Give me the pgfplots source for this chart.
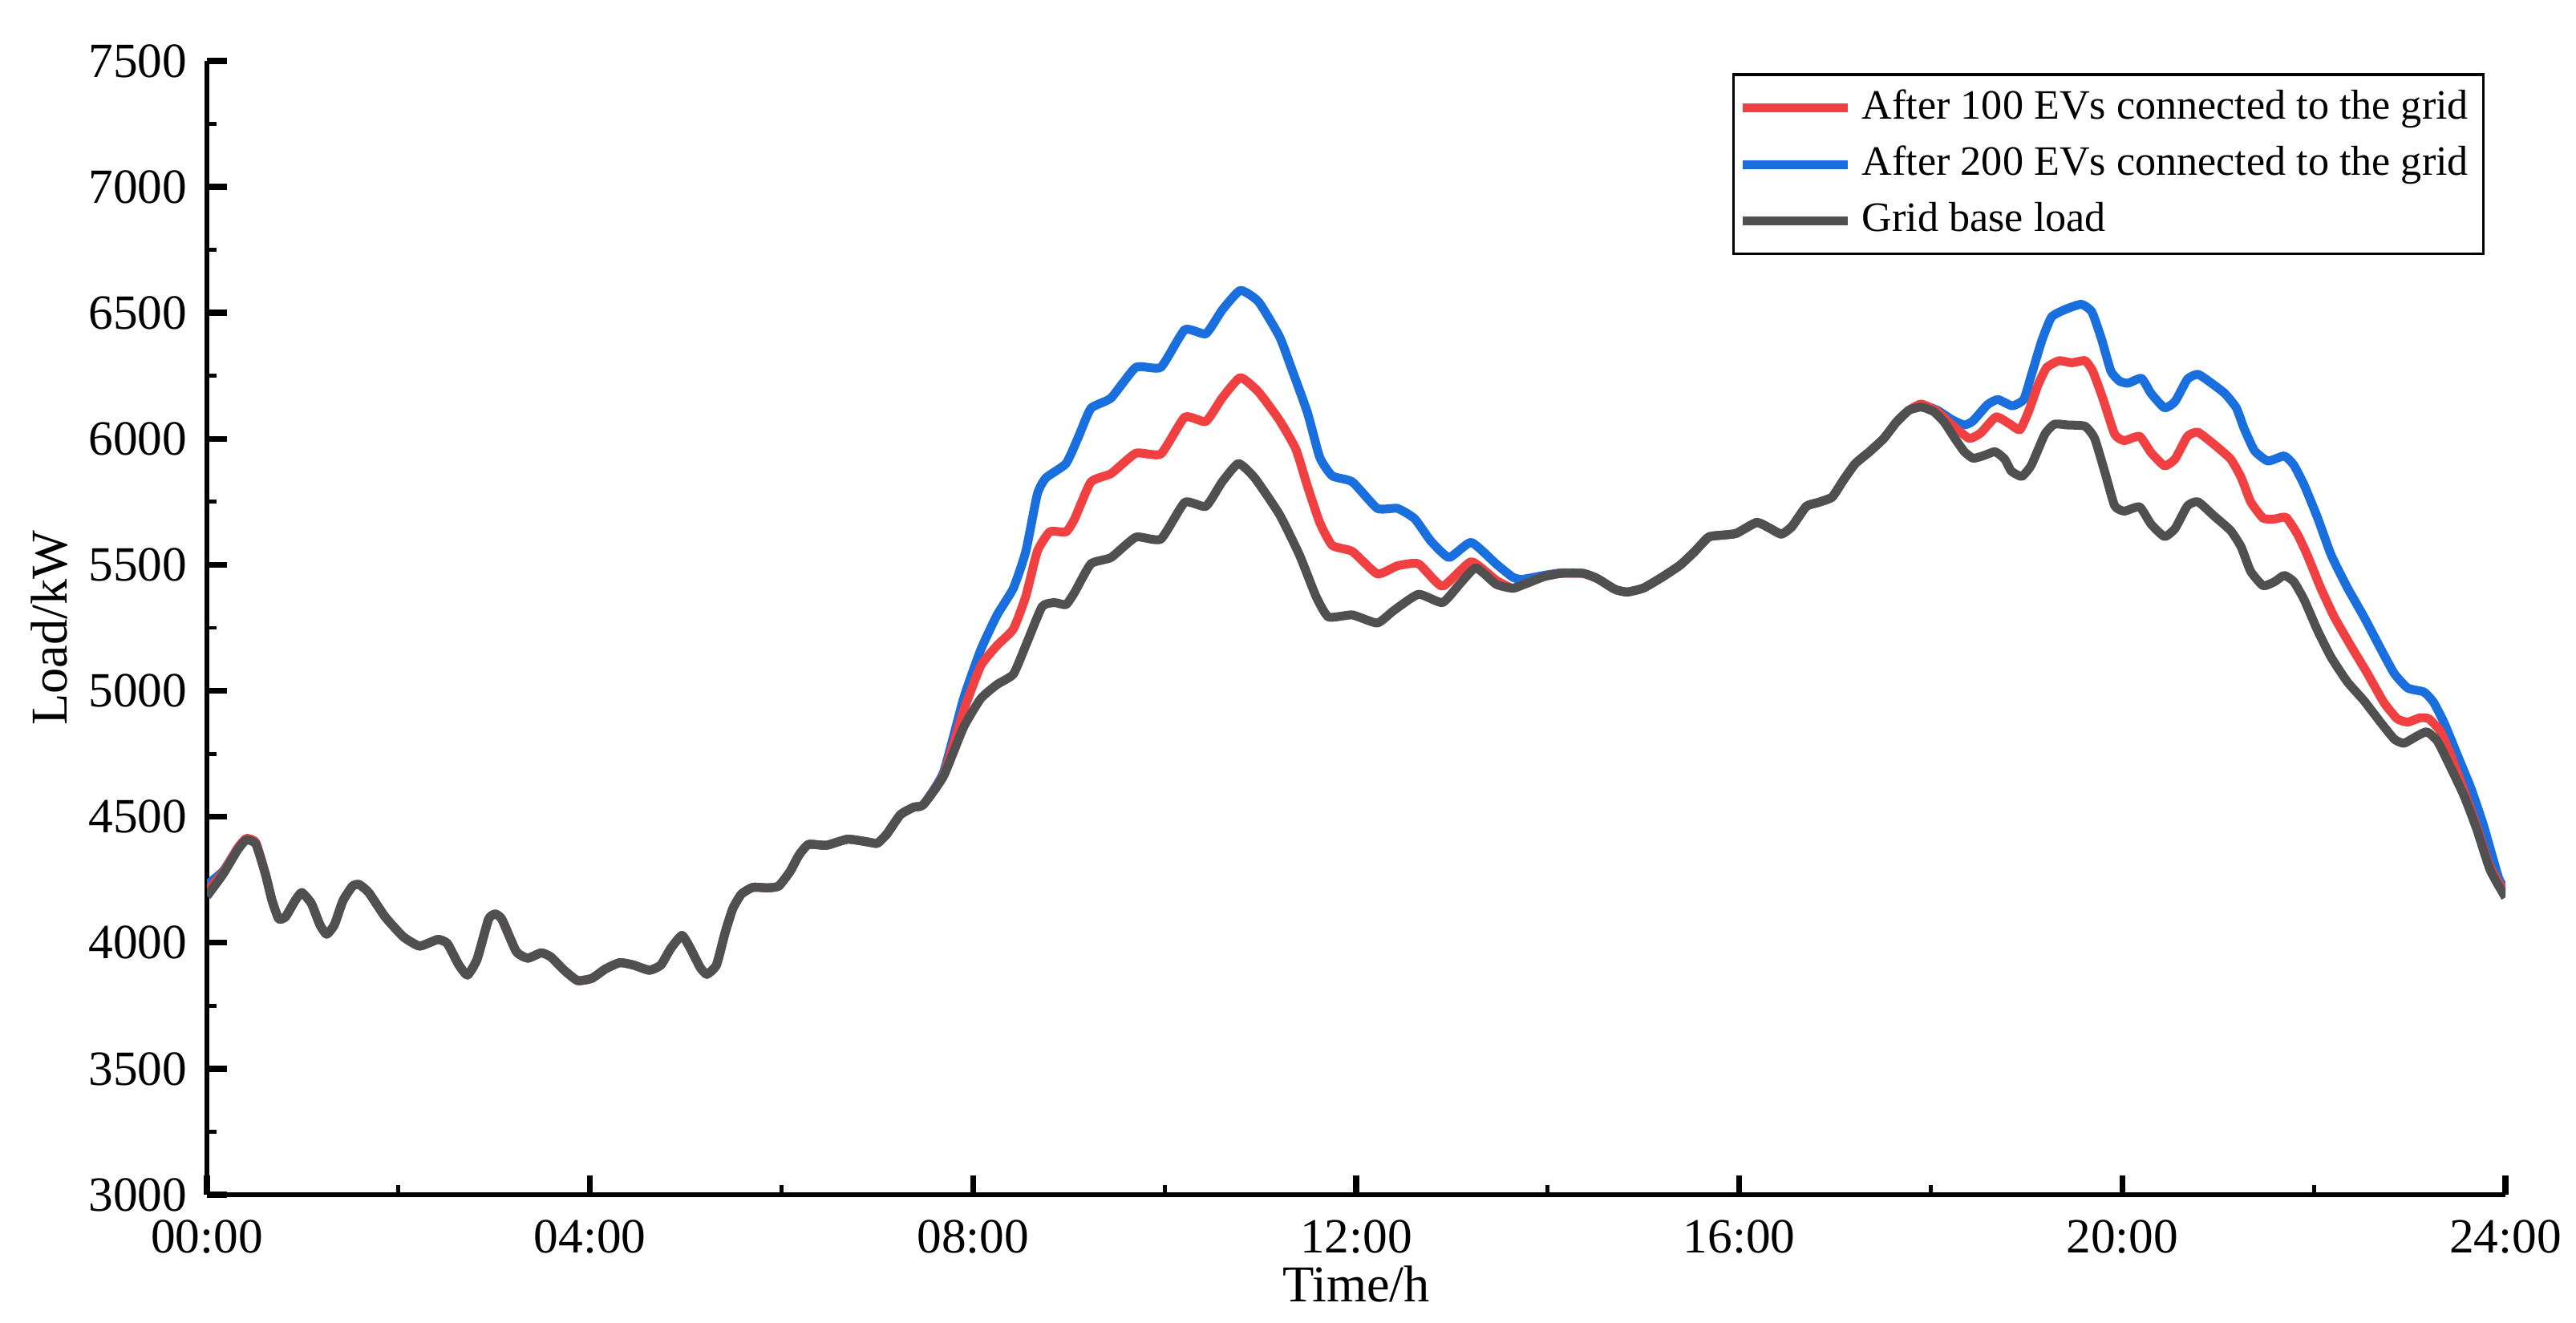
\documentclass[border=0pt]{standalone}
\usepackage{fontspec}
\setmainfont{Liberation Serif}
\usepackage{pgfplots}
\pgfplotsset{compat=1.18}
\definecolor{redline}{RGB}{240,64,66}
\definecolor{blueline}{RGB}{26,111,223}
\definecolor{grayline}{RGB}{80,80,80}
\begin{document}
\begin{tikzpicture}
\useasboundingbox (-1.478cm,-0.916cm) rectangle (16.918cm,8.534cm);
\begin{axis}[
  at={(0,0)}, anchor=south west,
  scale only axis, width=16.414cm, height=8.099cm,
  xmin=0, xmax=24, ymin=3000, ymax=7500,
  axis x line=bottom, axis y line=left,
  axis line style={-, line width=1pt, black},
  xtick={0,4,8,12,16,20,24},
  xticklabels={00:00,04:00,08:00,12:00,16:00,20:00,24:00},
  ytick={3000,3500,4000,4500,5000,5500,6000,6500,7000,7500},
  minor x tick num=1, minor y tick num=1,
  tick align=inside,
  major tick length=0.14cm, minor tick length=0.068cm,
  every major tick/.style={line width=1.2pt, black},
  every minor tick/.style={line width=0.8pt, black},
  /pgf/number format/.cd, assume math mode=true, 1000 sep={}, /pgfplots/.cd,
  tick label style={font=\fontsize{10}{12}\selectfont},
  xticklabel style={inner ysep=0pt, yshift=-5pt},
  yticklabel style={inner ysep=0pt, xshift=-0.5pt},
  xlabel={Time/h}, ylabel={Load/kW},
  label style={font=\fontsize{10.5}{12}\selectfont, inner sep=0.5pt},
  xlabel style={at={(axis description cs:0.5,-0.079)}, anchor=center},
  ylabel style={at={(axis description cs:-0.0684,0.5)}, anchor=center},
  legend style={at={(0.991,0.989)}, anchor=north east, draw=black, line width=0.6pt,
    font=\fontsize{8.5}{10}\selectfont, inner xsep=1pt, inner ysep=1pt, row sep=0pt},
  legend cell align=left,
  legend image code/.code={\draw[#1] (0cm,0cm) -- (0.75cm,0cm);},
  clip=true,
]
\addlegendimage{redline, line width=1.8pt}
\addlegendentry{After 100 EVs connected to the grid}
\addlegendimage{blueline, line width=1.8pt}
\addlegendentry{After 200 EVs connected to the grid}
\addlegendimage{grayline, line width=1.8pt}
\addlegendentry{Grid base load}

% After 200 EVs
\addplot[blueline, line width=1.8pt, line join=round, smooth, tension=0.3, forget plot] coordinates {
(0.00,4230) (0.17,4285) (0.32,4375) (0.41,4412) (0.51,4395) (0.61,4273) (0.68,4167) (0.75,4095) (0.82,4103) (0.92,4167) (0.99,4199) (1.09,4156) (1.18,4071) (1.25,4034) (1.33,4071) (1.42,4167) (1.52,4225) (1.59,4231) (1.69,4199) (1.86,4103) (2.05,4024) (2.22,3987) (2.41,4013) (2.51,3997) (2.63,3912) (2.72,3872) (2.82,3934) (2.94,4093) (3.01,4114) (3.08,4093) (3.23,3965) (3.35,3939) (3.49,3960) (3.59,3944) (3.73,3891) (3.87,3850) (4.02,3859) (4.16,3896) (4.31,3921) (4.45,3912) (4.62,3891) (4.74,3912) (4.84,3976) (4.96,4029) (5.05,3976) (5.15,3902) (5.22,3875) (5.32,3912) (5.41,4040) (5.49,4135) (5.58,4193) (5.70,4220) (5.85,4218) (5.97,4225) (6.09,4284) (6.18,4347) (6.28,4390) (6.47,4387) (6.69,4411) (6.90,4400) (7.00,4395) (7.10,4432) (7.24,4508) (7.38,4538) (7.48,4548)
(7.69,4676) (7.90,4969) (8.08,5163) (8.25,5301) (8.42,5407) (8.55,5553) (8.67,5780) (8.76,5845) (8.97,5902) (9.10,6008) (9.23,6121) (9.44,6162) (9.70,6284) (9.96,6284) (10.21,6433) (10.43,6417) (10.60,6511) (10.79,6589) (10.98,6544) (11.20,6405) (11.32,6284) (11.49,6105) (11.62,5926) (11.75,5853) (11.96,5829) (12.22,5724) (12.43,5724) (12.61,5683) (12.78,5594) (12.97,5529) (13.20,5589) (13.46,5504) (13.63,5452) (13.73,5442) (13.96,5458) (14.14,5468) (14.37,5466)
(14.52,5445) (14.70,5403) (14.83,5392) (15.00,5408) (15.19,5450) (15.38,5498) (15.53,5551) (15.68,5610) (15.83,5618) (15.97,5625) (16.18,5668) (16.31,5647) (16.44,5622) (16.55,5652) (16.70,5732) (16.83,5748) (16.97,5769) (17.08,5832) (17.21,5901) (17.36,5949) (17.51,6002) (17.64,6066) (17.77,6113)
(17.90,6135) (18.07,6113) (18.22,6076) (18.35,6055) (18.44,6071) (18.59,6135) (18.70,6156) (18.85,6131) (18.97,6156) (19.05,6253) (19.16,6391) (19.26,6483) (19.40,6513) (19.57,6534) (19.68,6505) (19.78,6399) (19.88,6269) (19.97,6229) (20.06,6221) (20.20,6240) (20.30,6180) (20.44,6123) (20.55,6148) (20.68,6237) (20.79,6256) (20.93,6221) (21.07,6180) (21.19,6123) (21.27,6042) (21.38,5953) (21.52,5912) (21.69,5932) (21.79,5896) (21.90,5815) (22.04,5685) (22.18,5539) (22.35,5409) (22.52,5295) (22.70,5165) (22.84,5068) (22.98,5011) (23.15,4995) (23.25,4954) (23.36,4873) (23.50,4743) (23.64,4613) (23.77,4467) (23.93,4256) (24.00,4215)
};
% After 100 EVs
\addplot[redline, line width=1.8pt, line join=round, smooth, tension=0.3, forget plot] coordinates {
(0.00,4205) (0.17,4280) (0.32,4375) (0.41,4414) (0.51,4398) (0.61,4273) (0.68,4167) (0.75,4095) (0.82,4103) (0.92,4167) (0.99,4199) (1.09,4156) (1.18,4071) (1.25,4034) (1.33,4071) (1.42,4167) (1.52,4225) (1.59,4231) (1.69,4199) (1.86,4103) (2.05,4024) (2.22,3987) (2.41,4013) (2.51,3997) (2.63,3912) (2.72,3872) (2.82,3934) (2.94,4093) (3.01,4114) (3.08,4093) (3.23,3965) (3.35,3939) (3.49,3960) (3.59,3944) (3.73,3891) (3.87,3850) (4.02,3859) (4.16,3896) (4.31,3921) (4.45,3912) (4.62,3891) (4.74,3912) (4.84,3976) (4.96,4029) (5.05,3976) (5.15,3902) (5.22,3875) (5.32,3912) (5.41,4040) (5.49,4135) (5.58,4193) (5.70,4220) (5.85,4218) (5.97,4225) (6.09,4284) (6.18,4347) (6.28,4390) (6.47,4387) (6.69,4411) (6.90,4400) (7.00,4395) (7.10,4432) (7.24,4508) (7.38,4538) (7.48,4548)
(7.69,4665) (7.90,4920) (8.08,5099) (8.25,5180) (8.42,5245) (8.55,5375) (8.67,5553) (8.80,5631) (8.97,5631) (9.06,5683) (9.23,5829) (9.44,5862) (9.70,5943) (9.96,5940) (10.21,6086) (10.43,6069) (10.60,6162) (10.79,6243) (10.98,6186) (11.20,6073) (11.37,5959) (11.49,5813) (11.62,5667) (11.75,5577) (11.96,5553) (12.22,5464) (12.43,5496) (12.65,5504) (12.90,5415) (13.20,5512) (13.46,5439) (13.63,5407) (13.73,5419) (13.96,5453) (14.14,5466) (14.37,5466)
(14.52,5445) (14.70,5403) (14.83,5392) (15.00,5408) (15.19,5450) (15.38,5498) (15.53,5551) (15.68,5610) (15.83,5618) (15.97,5625) (16.18,5668) (16.31,5647) (16.44,5622) (16.55,5652) (16.70,5732) (16.83,5748) (16.97,5769) (17.08,5832) (17.21,5901) (17.36,5949) (17.51,6002) (17.64,6066) (17.77,6113)
(17.90,6138) (18.07,6108) (18.22,6055) (18.40,6002) (18.52,6023) (18.68,6087) (18.82,6060) (18.93,6036) (19.02,6108) (19.12,6214) (19.21,6283) (19.34,6310) (19.47,6302) (19.61,6310) (19.69,6269) (19.80,6156) (19.92,6018) (20.02,5993) (20.18,6010) (20.30,5945) (20.44,5893) (20.55,5920) (20.68,6010) (20.79,6026) (20.96,5977) (21.13,5920) (21.24,5847) (21.34,5750) (21.47,5685) (21.59,5682) (21.71,5688) (21.83,5620) (21.93,5539) (22.07,5409) (22.21,5295) (22.38,5182) (22.56,5068) (22.73,4954) (22.87,4889) (22.98,4876) (23.11,4893) (23.20,4889) (23.32,4840) (23.43,4743) (23.57,4600) (23.70,4462) (23.84,4300) (24.00,4195)
};
% Grid base load
\addplot[grayline, line width=1.8pt, line join=round, smooth, tension=0.3, forget plot] coordinates {
(0.00,4185) (0.17,4273) (0.32,4368) (0.41,4408) (0.51,4392) (0.61,4273) (0.68,4167) (0.75,4095) (0.82,4103) (0.92,4167) (0.99,4199) (1.09,4156) (1.18,4071) (1.25,4034) (1.33,4071) (1.42,4167) (1.52,4225) (1.59,4231) (1.69,4199) (1.86,4103) (2.05,4024) (2.22,3987) (2.41,4013) (2.51,3997) (2.63,3912) (2.72,3872) (2.82,3934) (2.94,4093) (3.01,4114) (3.08,4093) (3.23,3965) (3.35,3939) (3.49,3960) (3.59,3944) (3.73,3891) (3.87,3850) (4.02,3859) (4.16,3896) (4.31,3921) (4.45,3912) (4.62,3891) (4.74,3912) (4.84,3976) (4.96,4029) (5.05,3976) (5.15,3902) (5.22,3875) (5.32,3912) (5.41,4040) (5.49,4135) (5.58,4193) (5.70,4220) (5.85,4218) (5.97,4225) (6.09,4284) (6.18,4347) (6.28,4390) (6.47,4387) (6.69,4411) (6.90,4400) (7.00,4395) (7.10,4432) (7.24,4508) (7.38,4538) (7.48,4548)
(7.69,4660) (7.90,4855) (8.08,4969) (8.25,5025) (8.42,5066) (8.55,5180) (8.72,5334) (8.85,5350) (8.97,5342) (9.06,5391) (9.23,5504) (9.44,5529) (9.70,5610) (9.96,5602) (10.21,5748) (10.43,5732) (10.60,5829) (10.77,5902) (10.94,5845) (11.20,5699) (11.41,5537) (11.58,5375) (11.71,5293) (11.96,5301) (12.22,5269) (12.39,5318) (12.65,5383) (12.90,5350) (13.08,5423) (13.25,5488) (13.46,5423) (13.63,5407) (13.73,5419) (13.96,5453) (14.14,5466) (14.37,5466)
(14.52,5445) (14.70,5403) (14.83,5392) (15.00,5408) (15.19,5450) (15.38,5498) (15.53,5551) (15.68,5610) (15.83,5618) (15.97,5625) (16.18,5668) (16.31,5647) (16.44,5622) (16.55,5652) (16.70,5732) (16.83,5748) (16.97,5769) (17.08,5832) (17.21,5901) (17.36,5949) (17.51,6002) (17.64,6066) (17.77,6113)
(17.90,6126) (18.03,6108) (18.14,6066) (18.25,6002) (18.35,5949) (18.44,5923) (18.55,5933) (18.67,5949) (18.77,5920) (18.84,5872) (18.95,5851) (19.05,5896) (19.19,6018) (19.29,6058) (19.43,6055) (19.61,6050) (19.71,6002) (19.82,5864) (19.92,5734) (20.02,5713) (20.18,5730) (20.30,5661) (20.44,5612) (20.55,5644) (20.68,5734) (20.79,5750) (20.96,5693) (21.13,5636) (21.24,5571) (21.34,5474) (21.47,5417) (21.59,5433) (21.69,5458) (21.79,5433) (21.90,5360) (22.04,5238) (22.18,5133) (22.35,5035) (22.52,4962) (22.70,4873) (22.84,4808) (22.94,4792) (23.08,4821) (23.18,4837) (23.29,4800) (23.43,4694) (23.57,4581) (23.70,4451) (23.84,4289) (24.00,4180)
};
\end{axis}
\end{tikzpicture}
\end{document}
